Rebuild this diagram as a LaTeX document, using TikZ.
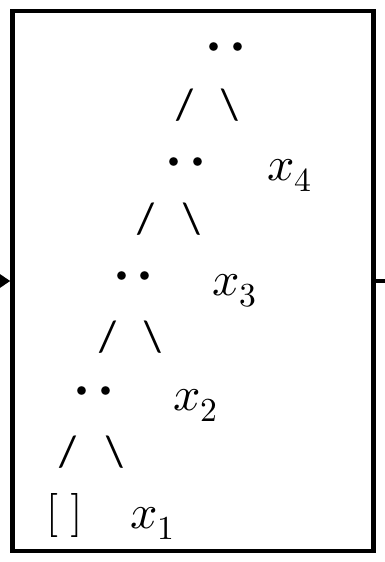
\documentclass[tikz,border=0pt]{standalone}
\usepackage{fontspec}
\usepackage{unicode-math}
\setmathfont{Latin Modern Math}
\newfontfamily\slashfont{Carlito}
\usetikzlibrary{arrows.meta, positioning}

\begin{document}
\begin{tikzpicture}[x=1pt, y=-1pt,
            cons/.style={inner sep=0pt, font=\fontsize{22}{22}\selectfont},
            branch/.style={inner sep=0pt, font=\slashfont\fontsize{44}{44}\selectfont},
            head/.style={inner sep=0pt, anchor=base west, font=\fontsize{48}{48}\selectfont},
            nil/.style={inner sep=0pt, anchor=base, font=\fontsize{44}{44}\selectfont}
        ]
            \useasboundingbox (0,0) rectangle (385,562);

            % Frame
            \node[draw, line width=4.5pt, minimum width=361pt, minimum height=540pt, inner sep=0pt] (box) at (193,281) {};

            % Cons cells
            \foreach \i/\x/\y in {4/226/48, 3/186/163, 2/133.5/277, 1/94/392}
                \node[cons] (cons\i) at (\x,\y) {$\bullet$\hspace{13pt}$\bullet$};

            % Branches
            \foreach \i/\x/\y in {4/185/105.5, 3/145.5/219.5, 2/107.5/337.5, 1/67.5/452.5}
                \node[branch] (lbr\i) at (\x,\y) {/};
            \foreach \i/\x/\y in {4/230/105.5, 3/191.5/219.5, 2/153/337.5, 1/114.5/452.5}
                \node[branch] (rbr\i) at (\x,\y) {\textbackslash};

            % Heads
            \foreach \i/\x/\y in {4/267/180, 3/212/295, 2/173/410, 1/130/528}
                \node[head] (x\i) at (\x,\y) {$x_{\i}$};

            % Empty list
            \node[nil] (nil) at (64.5,526) {$[\;]$};

            % Input and output
            \coordinate (in) at (-20,281);
            \coordinate (out) at (400,281);
            \draw[line width=4.5pt, -{Triangle[length=11pt,width=14pt]}] (in) -- (box.west);
            \draw[line width=4.5pt] (box.east) -- (out);
        \end{tikzpicture}
\end{document}
